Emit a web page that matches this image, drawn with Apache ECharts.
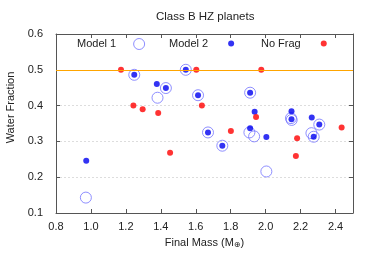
<!DOCTYPE html>
<html>
<head>
<meta charset="utf-8">
<script src="https://cdn.jsdelivr.net/npm/echarts@6/dist/echarts.min.js"></script>
<style>html,body{margin:0;padding:0;background:#fff}#c{width:374px;height:262px}</style>
</head>
<body>
<div id="c"></div>
<script>
var titleText = 'Class B HZ planets';
var xTicks = [0.8, 1.0, 1.2, 1.4, 1.6, 1.8, 2.0, 2.2, 2.4];
var yTicks = [0.1, 0.2, 0.3, 0.4, 0.5, 0.6];
var threshold = 0.5;

var model1X = [1.248, 1.429, 1.543, 1.911, 1.381, 1.613, 2.145, 2.149, 2.307, 1.670, 1.907, 1.934, 2.262, 2.275, 1.752, 2.004, 0.971];
var model1Y = [0.486, 0.449, 0.500, 0.436, 0.422, 0.429, 0.365, 0.360, 0.347, 0.325, 0.325, 0.314, 0.323, 0.313, 0.288, 0.216, 0.143];

var model2X = [1.248, 1.377, 1.429, 1.543, 1.613, 1.911, 1.937, 2.148, 2.148, 2.264, 2.307, 1.670, 1.911, 2.004, 2.275, 1.752, 0.973];
var model2Y = [0.486, 0.460, 0.449, 0.500, 0.429, 0.436, 0.383, 0.384, 0.362, 0.367, 0.347, 0.325, 0.337, 0.312, 0.313, 0.288, 0.246];

var noFragX = [1.172, 1.603, 1.975, 1.243, 1.296, 1.385, 1.635, 1.945, 2.435, 1.801, 2.180, 1.453, 2.173];
var noFragY = [0.500, 0.500, 0.500, 0.400, 0.390, 0.379, 0.400, 0.368, 0.339, 0.329, 0.309, 0.268, 0.259];

function pairs(xs, ys) { return xs.map(function (x, i) { return [x, ys[i]]; }); }

var font = 'Liberation Sans';
var axisColor = '#555';
var ringColor = '#7373ff';
var blueColor = '#0000f0';
var redColor = '#ff0000';
var chart = echarts.init(document.getElementById('c'), null, {renderer: 'canvas'});

var baseX = {
  type: 'value', min: xTicks[0], max: 2.5, interval: 0.2,
  axisLine: {show: true, onZero: false, lineStyle: {color: axisColor, width: 1}},
  axisTick: {show: true, inside: true, length: 4, lineStyle: {color: axisColor}},
  splitLine: {show: false}
};
var baseY = {
  type: 'value', min: yTicks[0], max: yTicks[yTicks.length - 1], interval: 0.1,
  axisLine: {show: true, onZero: false, lineStyle: {color: axisColor, width: 1}},
  axisTick: {show: true, inside: true, length: 4, lineStyle: {color: axisColor}}
};

function legendAt(name, left, style) {
  return {
    data: [{name: name, icon: 'circle', itemStyle: style}],
    left: left, top: 38, padding: 0, align: 'right',
    itemWidth: 36, itemHeight: name === 'Model 1' ? 11 : 6, itemGap: 0,
    textStyle: {fontFamily: font, fontSize: 11, color: '#222', padding: 0}
  };
}

var option = {
  animation: false,
  backgroundColor: '#fff',
  textStyle: {fontFamily: font},
  title: {
    text: titleText, left: 156, top: 11, padding: 0,
    textStyle: {fontFamily: font, fontSize: 11.5, fontWeight: 'normal', color: '#222'}
  },
  legend: [
    legendAt('Model 1', 77, {color: 'rgba(255,255,255,0)', borderColor: ringColor, borderWidth: 1}),
    legendAt('Model 2', 169, {color: blueColor, borderWidth: 0}),
    legendAt('No Frag', 261, {color: redColor, borderWidth: 0})
  ],
  grid: {left: 56, right: 21, top: 34, bottom: 49, containLabel: false, outerBoundsMode: 'none'},
  xAxis: [
    Object.assign({}, baseX, {
      position: 'bottom',
      name: 'Final Mass (M{sub|⊕})', nameLocation: 'middle', nameGap: 23,
      nameTextStyle: {fontFamily: font, fontSize: 11, color: '#222',
        rich: {sub: {fontFamily: 'DejaVu Sans', fontSize: 8, color: '#222', verticalAlign: 'bottom', padding: [5, 0, 0, 0]}}},
      axisLabel: {show: true, margin: 8, fontFamily: font, fontSize: 11, color: '#222', showMaxLabel: false,
        formatter: function (v) { return xTicks.indexOf(Math.round(v * 10) / 10) >= 0 ? v.toFixed(1) : ''; }}
    }),
    Object.assign({}, baseX, {position: 'top', axisLabel: {show: false}})
  ],
  yAxis: [
    Object.assign({}, baseY, {
      position: 'left',
      name: 'Water Fraction', nameLocation: 'middle', nameGap: 40,
      nameTextStyle: {fontFamily: font, fontSize: 11, color: '#222', padding: [0, 0, 0, 32]},
      axisLabel: {show: true, margin: 13, fontFamily: font, fontSize: 11, color: '#222',
        formatter: function (v) { return v.toFixed(1); }},
      splitLine: {show: true, lineStyle: {color: '#ddd', type: [2, 2], width: 1}}
    }),
    Object.assign({}, baseY, {position: 'right', axisLabel: {show: false}, splitLine: {show: false}})
  ],
  series: [
    {
      name: 'Model 1', type: 'scatter', xAxisIndex: 0, yAxisIndex: 0,
      data: pairs(model1X, model1Y), symbol: 'circle', symbolSize: 11, z: 2,
      itemStyle: {color: 'rgba(255,255,255,0)', borderColor: ringColor, borderWidth: 1},
      markLine: {
        silent: true, symbol: 'none', label: {show: false},
        lineStyle: {color: '#ffa500', type: 'solid', width: 1},
        data: [{yAxis: threshold}]
      }
    },
    {
      name: 'Model 2', type: 'scatter', xAxisIndex: 0, yAxisIndex: 0,
      data: pairs(model2X, model2Y), symbol: 'circle', symbolSize: 6, z: 3,
      itemStyle: {color: blueColor, borderWidth: 0}
    },
    {
      name: 'No Frag', type: 'scatter', xAxisIndex: 0, yAxisIndex: 0,
      data: pairs(noFragX, noFragY), symbol: 'circle', symbolSize: 6, z: 4,
      itemStyle: {color: redColor, borderWidth: 0}
    }
  ]
};
chart.setOption(option);
</script>
</body>
</html>
